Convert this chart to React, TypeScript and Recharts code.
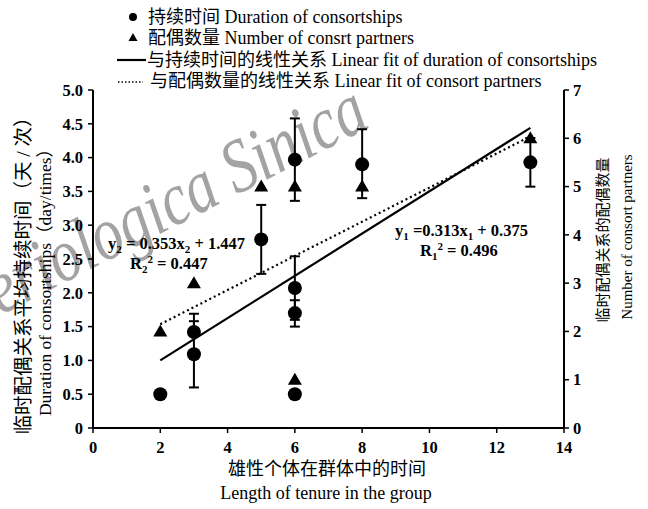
import React from 'react';
import { ComposedChart, Scatter, Line, XAxis, YAxis, ErrorBar } from 'recharts';

// tenure (x) and mean consortship duration (left axis)
const durationX = [2, 3, 3, 5, 6, 6, 6, 6, 8, 13];
const durationY = [0.5, 1.42, 1.09, 2.79, 3.97, 2.07, 1.7, 0.5, 3.9, 3.93];
// [lower, upper] error lengths
const durationErr: [number, number][] = [
  [0, 0], [0, 0.27], [0.49, 0.49], [0.51, 0.51], [0.61, 0.61],
  [0.47, 0.47], [0.2, 0.19], [0, 0], [0.5, 0.52], [0.36, 0.36],
];

// number of consort partners (right axis)
const partnersX = [2, 3, 5, 6, 6, 8, 13];
const partnersY = [2, 3, 5, 5, 1, 5, 6];

// fitted line end points
const fitX = [2, 13];
const fitDurationY = [1.0, 4.44];
const fitPartnersY = [2.15, 6.04];

const xTicks = [0, 2, 4, 6, 8, 10, 12, 14];
const leftTicks = [0, 0.5, 1, 1.5, 2, 2.5, 3, 3.5, 4, 4.5, 5];
const rightTicks = [0, 1, 2, 3, 4, 5, 6, 7];

const durationData = durationX.map((x, i) => ({ x, y: durationY[i], err: durationErr[i] }));
const partnersData = partnersX.map((x, i) => ({ x, y: partnersY[i] }));
const fitDuration = fitX.map((x, i) => ({ x, y: fitDurationY[i] }));
const fitPartners = fitX.map((x, i) => ({ x, y: fitPartnersY[i] }));

const FONT = "'Liberation Serif', 'Noto Sans CJK SC', serif";

// serif bold tick text (the default tick text ignored the font)
const makeTick = (fmt: (v: number) => string) => (p: any) => (
  <text
    x={p.x}
    y={p.y}
    dy={p.verticalAnchor === 'start' ? '0.75em' : '0.35em'}
    textAnchor={p.textAnchor}
    fill="#000"
    fontSize={16.5}
    fontWeight="bold"
    fontFamily={FONT}
  >
    {fmt(p.payload.value)}
  </text>
);
const plainTick = makeTick((v) => String(v));
const leftTick = makeTick((v) => (v === 0 ? '0' : v.toFixed(1)));

const Dot = (p: any) => <circle cx={p.cx} cy={p.cy} r={7} fill="#000" />;
const Tri = (p: any) => (
  <polygon points={`${p.cx},${p.cy - 7} ${p.cx - 7},${p.cy + 5} ${p.cx + 7},${p.cy + 5}`} fill="#000" />
);

export default function App() {
  return (
    <div style={{ position: 'absolute', left: 0, top: 0, width: 648, height: 509, background: '#fff', fontFamily: FONT }}>
      {/* watermark */}
      <svg width={648} height={509} style={{ position: 'absolute', left: 0, top: 0 }}>
        <g transform="rotate(-27 372 126) translate(372 126) scale(0.8 1)">
          <text x={0} y={0} textAnchor="end" fontFamily={FONT} fontStyle="italic" fontSize={76} fill="#a3a3a3">
            Theriologica Sinica
          </text>
        </g>
      </svg>

      <div style={{ position: 'absolute', left: 0, top: 0 }}>
        <ComposedChart width={648} height={509} margin={{ top: 90, right: 24, bottom: 51, left: 33 }}>
          <XAxis
            type="number"
            dataKey="x"
            domain={[0, 14]}
            ticks={xTicks}
            allowDataOverflow
            height={30}
            axisLine={{ stroke: '#000', strokeWidth: 2 }}
            tickLine={{ stroke: '#000', strokeWidth: 1.5 }}
            tickSize={5}
            tickMargin={8}
            tick={plainTick}
          />
          <YAxis
            yAxisId="left"
            type="number"
            dataKey="y"
            domain={[0, 5]}
            ticks={leftTicks}
            allowDataOverflow
            width={60}
            axisLine={{ stroke: '#000', strokeWidth: 2 }}
            tickLine={{ stroke: '#000', strokeWidth: 1.5 }}
            tickSize={5}
            tickMargin={5}
            tick={leftTick}
          />
          <YAxis
            yAxisId="right"
            orientation="right"
            type="number"
            dataKey="y"
            domain={[0, 7]}
            ticks={rightTicks}
            allowDataOverflow
            width={60}
            axisLine={{ stroke: '#000', strokeWidth: 2 }}
            tickLine={{ stroke: '#000', strokeWidth: 1.5 }}
            tickSize={5}
            tickMargin={4}
            tick={plainTick}
          />
          <Line
            yAxisId="left"
            data={fitDuration}
            dataKey="y"
            type="linear"
            stroke="#000"
            strokeWidth={2.2}
            dot={false}
            isAnimationActive={false}
          />
          <Line
            yAxisId="right"
            data={fitPartners}
            dataKey="y"
            type="linear"
            stroke="#000"
            strokeWidth={2.2}
            strokeDasharray="2 3"
            dot={false}
            isAnimationActive={false}
          />
          <Scatter yAxisId="left" data={durationData} dataKey="y" shape={Dot} isAnimationActive={false}>
            <ErrorBar dataKey="err" direction="y" width={5} stroke="#000" strokeWidth={2} />
          </Scatter>
          <Scatter yAxisId="right" data={partnersData} dataKey="y" shape={Tri} isAnimationActive={false} />
        </ComposedChart>
      </div>

      {/* legend, axis titles and fit equations */}
      <svg
        width={648}
        height={509}
        style={{ position: 'absolute', left: 0, top: 0, pointerEvents: 'none' }}
        fontFamily={FONT}
      >
        <g fontSize={18} fill="#000" dominantBaseline="central">
          <circle cx={133} cy={17} r={4} fill="#000" />
          <text x={148} y={17}>持续时间 Duration of consortships</text>
          <polygon points="133,33 128.5,41 137.5,41" fill="#000" />
          <text x={148} y={38}>配偶数量 Number of consrt partners</text>
          <line x1={117} x2={146} y1={60} y2={60} stroke="#000" strokeWidth={2.2} />
          <text x={147} y={60}>与持续时间的线性关系 Linear fit of duration of consortships</text>
          <line x1={118} x2={143} y1={82} y2={82} stroke="#000" strokeWidth={1.5} strokeDasharray="1.5 2" />
          <text x={150} y={81}>与配偶数量的线性关系 Linear fit of consort partners</text>
        </g>

        <g fontSize={16.5} fontWeight="bold" fill="#000">
          <text x={108} y={249}>
            y<tspan fontSize={11} dy={4}>2</tspan>
            <tspan dy={-4}> = 0.353x</tspan>
            <tspan fontSize={11} dy={4}>2</tspan>
            <tspan dy={-4}> + 1.447</tspan>
          </text>
          <text x={130} y={269}>
            R<tspan fontSize={11} dy={4}>2</tspan>
            <tspan fontSize={11} dy={-10}>2</tspan>
            <tspan dy={6}> = 0.447</tspan>
          </text>
          <text x={395} y={236}>
            y<tspan fontSize={11} dy={4}>1</tspan>
            <tspan dy={-4}> =0.313x</tspan>
            <tspan fontSize={11} dy={4}>1</tspan>
            <tspan dy={-4}> + 0.375</tspan>
          </text>
          <text x={420} y={256}>
            R<tspan fontSize={11} dy={4}>1</tspan>
            <tspan fontSize={11} dy={-10}>2</tspan>
            <tspan dy={6}> = 0.496</tspan>
          </text>
        </g>

        <g fill="#000" textAnchor="middle" dominantBaseline="central">
          <text x={23} y={271} fontSize={19.5} transform="rotate(-90 23 271)">
            临时配偶关系平均持续时间（天 / 次）
          </text>
          <text x={45} y={278} fontSize={17.5} transform="rotate(-90 45 278)">
            Duration of consortships（day/times）
          </text>
          <text x={603} y={240} fontSize={15} transform="rotate(-90 603 240)">
            临时配偶关系的配偶数量
          </text>
          <text x={627} y={237} fontSize={15} transform="rotate(-90 627 237)">
            Number of consort partners
          </text>
          <text x={327} y={469} fontSize={18}>雄性个体在群体中的时间</text>
          <text x={326} y={493} fontSize={18}>Length of tenure in the group</text>
        </g>
      </svg>
    </div>
  );
}
